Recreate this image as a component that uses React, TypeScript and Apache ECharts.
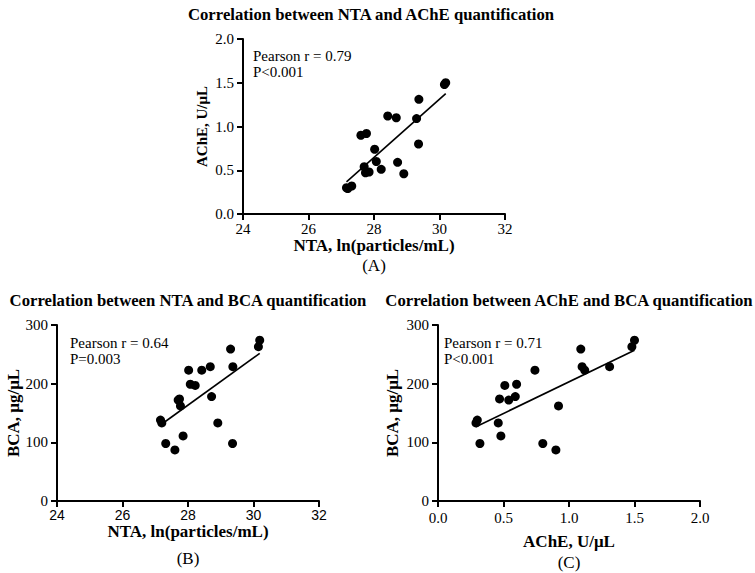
import React, { useEffect, useRef } from "react";
import * as echarts from "echarts";

const nta = [30.19, 30.15, 29.3, 29.37, 28.68, 28.42, 28.02, 28.07, 28.22, 28.72, 27.74, 27.7, 27.77, 27.16, 27.2, 28.91, 27.85, 27.32, 29.36, 27.6];
const ache = [1.5, 1.48, 1.09, 1.31, 1.1, 1.12, 0.74, 0.6, 0.51, 0.59, 0.47, 0.54, 0.92, 0.3, 0.29, 0.46, 0.48, 0.32, 0.8, 0.9];
const bca = [274, 263, 259, 229, 229, 223, 223, 199, 197, 178, 174, 172, 162, 138, 133, 133, 111, 98, 98, 87];

const titles = [
  "Correlation between NTA and AChE quantification",
  "Correlation between NTA and BCA quantification",
  "Correlation between AChE and BCA quantification",
];
const stats = [
  ["Pearson r = 0.79", "P<0.001"],
  ["Pearson r = 0.64", "P=0.003"],
  ["Pearson r = 0.71", "P<0.001"],
];
const panelLabels = ["(A)", "(B)", "(C)"];
const xNames = ["NTA, ln(particles/mL)", "NTA, ln(particles/mL)", "AChE, U/\u03bcL"];
const yNames = ["AChE, U/\u03bcL", "BCA, \u03bcg/\u03bcL", "BCA, \u03bcg/\u03bcL"];

const SERIF = "Liberation Serif";
const SANS = "Liberation Sans";

function fitLine(xs: number[], ys: number[]): number[][] {
  const n = xs.length;
  const mx = xs.reduce((a, b) => a + b, 0) / n;
  const my = ys.reduce((a, b) => a + b, 0) / n;
  let sxy = 0;
  let sxx = 0;
  for (let i = 0; i < n; i++) {
    sxy += (xs[i] - mx) * (ys[i] - my);
    sxx += (xs[i] - mx) * (xs[i] - mx);
  }
  const b = sxy / sxx;
  const a = my - b * mx;
  const x0 = Math.min(...xs);
  const x1 = Math.max(...xs);
  return [
    [x0, a + b * x0],
    [x1, a + b * x1],
  ];
}

export default function App() {
  const ref = useRef<HTMLDivElement>(null);
  useEffect(() => {
    if (!ref.current) return;
    const chart = echarts.init(ref.current, null, { renderer: "svg" });

    const grids = [
      { left: 243, top: 39, width: 262, height: 175 },
      { left: 57, top: 325, width: 262, height: 176 },
      { left: 438, top: 325, width: 262, height: 176 },
    ];
    const pairs = [
      [nta, ache],
      [nta, bca],
      [ache, bca],
    ];

    const axisCommon = {
      axisLine: { lineStyle: { color: "#000", width: 2 } },
      axisTick: { lineStyle: { color: "#000", width: 2 }, length: 6 },
      splitLine: { show: false },
      nameLocation: "middle" as const,
    };
    const nameStyle = (size: number) => ({
      color: "#000", fontFamily: SERIF, fontWeight: "bold", fontSize: size,
    });

    const xAxes = [
      {
        ...axisCommon, gridIndex: 0, type: "value", min: 24, max: 32, interval: 2,
        name: xNames[0], nameGap: 22, nameTextStyle: nameStyle(17),
        axisLabel: { color: "#000", fontFamily: SERIF, fontSize: 15, margin: 7 },
      },
      {
        ...axisCommon, gridIndex: 1, type: "value", min: 24, max: 32, interval: 2,
        name: xNames[1], nameGap: 21, nameTextStyle: nameStyle(17),
        axisLabel: { color: "#000", fontFamily: SANS, fontSize: 14, margin: 7 },
      },
      {
        ...axisCommon, gridIndex: 2, type: "value", min: 0, max: 2, interval: 0.5,
        name: xNames[2], nameGap: 32, nameTextStyle: nameStyle(17),
        axisLabel: { color: "#000", fontFamily: SERIF, fontSize: 15, margin: 9, formatter: (v: number) => v.toFixed(1) },
      },
    ];
    const yAxes = [
      {
        ...axisCommon, gridIndex: 0, type: "value", min: 0, max: 2, interval: 0.5,
        name: yNames[0], nameGap: 34, nameRotate: 90, nameTextStyle: nameStyle(15),
        axisLabel: { color: "#000", fontFamily: SERIF, fontSize: 15, margin: 9, formatter: (v: number) => v.toFixed(1) },
      },
      {
        ...axisCommon, gridIndex: 1, type: "value", min: 0, max: 300, interval: 100,
        name: yNames[1], nameGap: 34, nameRotate: 90, nameTextStyle: nameStyle(17),
        axisLabel: { color: "#000", fontFamily: SERIF, fontSize: 15, margin: 9 },
      },
      {
        ...axisCommon, gridIndex: 2, type: "value", min: 0, max: 300, interval: 100,
        name: yNames[2], nameGap: 37, nameRotate: 90, nameTextStyle: nameStyle(17),
        axisLabel: { color: "#000", fontFamily: SERIF, fontSize: 15, margin: 9 },
      },
    ];

    const series: any[] = [];
    pairs.forEach(([xs, ys], i) => {
      series.push({
        type: "scatter",
        xAxisIndex: i,
        yAxisIndex: i,
        symbol: "circle",
        symbolSize: 9,
        itemStyle: { color: "#000", opacity: 1 },
        data: xs.map((x, k) => [x, ys[k]]),
        z: 3,
      });
      series.push({
        type: "line",
        xAxisIndex: i,
        yAxisIndex: i,
        symbol: "none",
        lineStyle: { color: "#000", width: 1.6 },
        data: fitLine(xs, ys),
        z: 2,
      });
    });

    const titlePos = [
      { x: 371, y: 14 },
      { x: 188, y: 300 },
      { x: 569, y: 300 },
    ];
    const statPos = [
      { x: 253, y: 56 },
      { x: 70, y: 343 },
      { x: 444, y: 343 },
    ];
    const labelPos = [
      { x: 374, y: 265 },
      { x: 188, y: 558 },
      { x: 569, y: 562 },
    ];

    const graphics: any[] = [];
    titles.forEach((t, i) => {
      graphics.push({
        type: "text",
        x: titlePos[i].x,
        y: titlePos[i].y,
        style: {
          text: t,
          fill: "#000",
          fontFamily: SERIF,
          fontWeight: "bold",
          fontSize: 16.7,
          align: "center",
          verticalAlign: "middle",
        },
      });
    });
    stats.forEach((lines, i) => {
      lines.forEach((line, j) => {
        graphics.push({
          type: "text",
          x: statPos[i].x,
          y: statPos[i].y + j * 16,
          style: {
            text: line,
            fill: "#000",
            fontFamily: SERIF,
            fontSize: 15,
            align: "left",
            verticalAlign: "middle",
          },
        });
      });
    });
    panelLabels.forEach((t, i) => {
      graphics.push({
        type: "text",
        x: labelPos[i].x,
        y: labelPos[i].y,
        style: {
          text: t,
          fill: "#000",
          fontFamily: SERIF,
          fontSize: 17,
          align: "center",
          verticalAlign: "middle",
        },
      });
    });

    chart.setOption({
      animation: false,
      backgroundColor: "#fff",
      grid: grids,
      xAxis: xAxes,
      yAxis: yAxes,
      series,
      graphic: graphics,
    });
    return () => chart.dispose();
  }, []);

  return (
    <div
      ref={ref}
      style={{ position: "fixed", left: 0, top: 0, width: 755, height: 573, background: "#fff" }}
    />
  );
}
